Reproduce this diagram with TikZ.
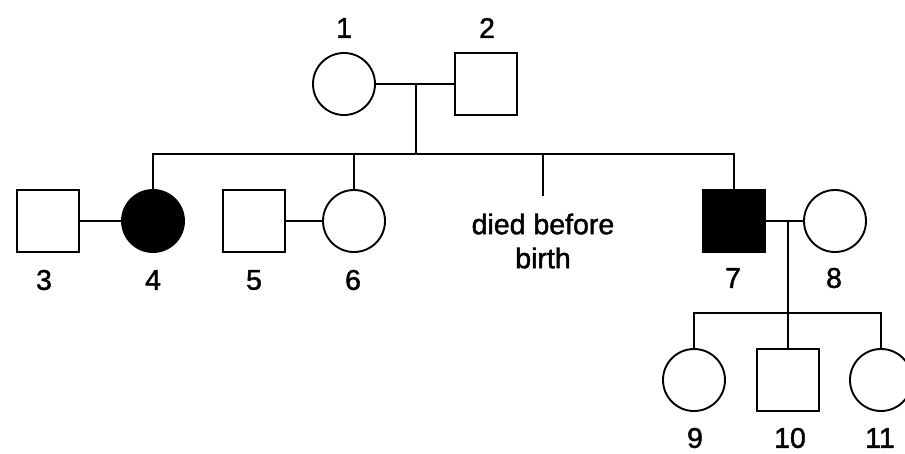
\documentclass[tikz,border=0pt]{standalone}
\usepackage{fontspec}
\setmainfont{Liberation Sans}[FakeBold=1.5]
\tikzset{
  person/.style={draw, line width=1.9pt, minimum size=62pt, inner sep=0pt},
  female/.style={person, circle},
  male/.style={person, rectangle},
  affected/.style={fill=black},
  idlabel/.style={font=\fontsize{28.5}{34}\selectfont, inner sep=1pt},
  line/.style={line width=1.9pt}
}
\begin{document}
\begin{tikzpicture}[x=1pt, y=-1pt]
                \useasboundingbox (0,0) rectangle (905,453);

                % Generation I
                \node[female] (c1) at (344,84) {};
                \node[male] (s2) at (486,84) {};
                \node[idlabel] (l1) at (344,28) {1};
                \node[idlabel] (l2) at (487,28) {2};

                % Generation II
                \node[male] (s3) at (48,221) {};
                \node[female, affected] (c4) at (153,221) {};
                \node[male] (s5) at (254,221) {};
                \node[female] (c6) at (354,221) {};
                \node[male, affected] (s7) at (734,221) {};
                \node[female] (c8) at (835,221) {};
                \node[idlabel] (l3) at (44,280) {3};
                \node[idlabel] (l4) at (153,280) {4};
                \node[idlabel] (l5) at (254,280) {5};
                \node[idlabel] (l6) at (353,280) {6};
                \node[idlabel] (l7) at (733,278) {7};
                \node[idlabel] (l8) at (834,278) {8};
                \coordinate (dbb) at (543,196);
                \node[idlabel, align=center, font=\fontsize{28.5}{34}\selectfont] (died) at (543,241) {died before\\birth};

                % Generation III
                \node[female] (c9) at (694,380) {};
                \node[male] (s10) at (788,380) {};
                \node[female] (c11) at (881,380) {};
                \node[idlabel] (l9) at (695,438) {9};
                \node[idlabel] (l10) at (790,438) {10};
                \node[idlabel] (l11) at (880,438) {11};

                % Matings
                \coordinate (m12) at (416,84);
                \coordinate (sib1) at (416,154);
                \draw[line] (c1.east) -- (s2.west);
                \draw[line] (s3.east) -- (c4.west);
                \draw[line] (s5.east) -- (c6.west);
                \draw[line] (s7.east) -- (c8.west);

                % Sibships
                \draw[line] (m12) -- (sib1);
                \draw[line] (c4.north) |- (sib1) -| (s7.north);
                \draw[line] (c6.north) -- (c6.north |- sib1);
                \draw[line] (dbb) -- (dbb |- sib1);

                \coordinate (m78) at (788,221);
                \coordinate (sib2) at (788,313);
                \draw[line] (m78) -- (sib2);
                \draw[line] (c9.north) |- (sib2) -| (c11.north);
                \draw[line] (s10.north) -- (sib2);
            \end{tikzpicture}
\end{document}
